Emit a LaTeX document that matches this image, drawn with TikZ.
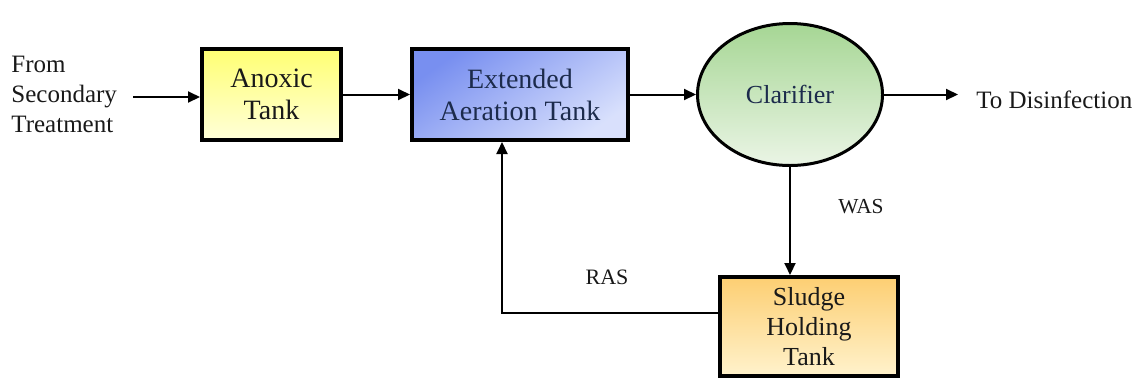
\documentclass[tikz,border=0pt]{standalone}
\usepackage{fontspec}
\setmainfont{Liberation Serif}
\usetikzlibrary{arrows.meta,shapes.geometric}

\newlength{\du}
\setlength{\du}{0.5pt}

\definecolor{anoxictop}{rgb}{1.000000, 1.000000, 0.450000}
\definecolor{anoxicbot}{rgb}{1.000000, 1.000000, 0.850000}
\definecolor{aertop}{rgb}{0.470000, 0.560000, 0.940000}
\definecolor{aerbot}{rgb}{0.850000, 0.880000, 0.990000}
\definecolor{clartop}{rgb}{0.650000, 0.840000, 0.580000}
\definecolor{clarbot}{rgb}{0.920000, 0.960000, 0.900000}
\definecolor{sludgetop}{rgb}{0.990000, 0.810000, 0.450000}
\definecolor{sludgebot}{rgb}{1.000000, 0.950000, 0.800000}
\definecolor{navytext}{rgb}{0.110000, 0.170000, 0.300000}
\definecolor{darktext}{rgb}{0.100000, 0.100000, 0.100000}

\tikzset{
  tankbox/.style={draw=black, line width=2pt, rectangle, align=center,
    text=darktext, font=\fontsize{14}{16}\selectfont},
  flowarrow/.style={line width=1pt, -{Triangle[length=6pt,width=5.5pt]}},
  labeltext/.style={text=darktext, font=\fontsize{12.5}{15}\selectfont, inner sep=0pt}
}

\begin{document}
\begin{tikzpicture}[x=\du, y=-\du]
\useasboundingbox (0,0) rectangle (1143,381);

% tanks
\node[tankbox, minimum width=69.5pt, minimum height=45.5pt,
  top color=anoxictop, bottom color=anoxicbot] (anoxic) at (271.5,94.5) {Anoxic\\Tank};
\node[tankbox, minimum width=108pt, minimum height=45.5pt, text=navytext,
  top color=aertop, bottom color=aerbot, shading angle=35] (aeration) at (520,94.5) {Extended\\Aeration Tank};
\node[ellipse, draw=black, line width=1.5pt, minimum width=92.5pt, minimum height=71pt,
  text=navytext, font=\fontsize{13}{16}\selectfont,
  top color=clartop, bottom color=clarbot] (clarifier) at (790,94.5) {Clarifier};
\node[tankbox, minimum width=89pt, minimum height=49.5pt, font=\fontsize{13}{15}\selectfont,
  top color=sludgetop, bottom color=sludgebot] (sludge) at (809,326.5) {Sludge\\Holding\\Tank};

% setfont left to latex
\node[labeltext, anchor=west, align=left] (inflow) at (11,94) {From\\Secondary\\Treatment};
\node[labeltext, anchor=west] (outflow) at (976,100) {To Disinfection};
\node[labeltext, font=\fontsize{10.7}{12}\selectfont] (was) at (861,207) {WAS};
\node[labeltext, font=\fontsize{11}{13}\selectfont] (ras) at (607,277) {RAS};

\coordinate (inlet) at (133,97);
\coordinate (outlet) at (958,97);

% flow
\draw[flowarrow] (inlet) -- (inlet -| anoxic.west);
\draw[flowarrow] (anoxic.east) -- (aeration.west);
\draw[flowarrow] (aeration.east) -- (clarifier.west);
\draw[flowarrow] (clarifier.east) -- (clarifier.east -| outlet);
\draw[flowarrow] (clarifier.south) -- (clarifier.south |- sludge.north);
\draw[flowarrow] ([yshift=6.75pt]sludge.west) -| ([xshift=-9pt]aeration.south);
\end{tikzpicture}
\end{document}
